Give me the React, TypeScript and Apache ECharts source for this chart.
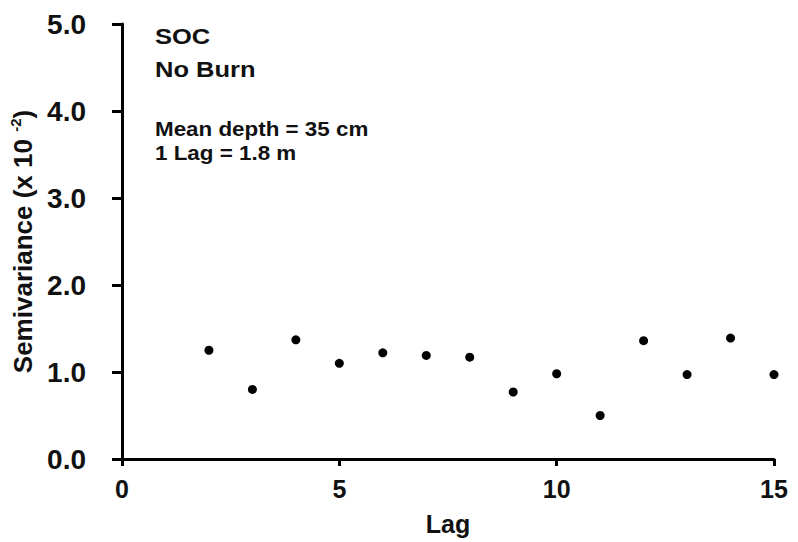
import React, { useEffect, useRef } from "react";
import * as echarts from "echarts";

const lags = [2, 3, 4, 5, 6, 7, 8, 9, 10, 11, 12, 13, 14, 15];
const semivariance = [1.25, 0.8, 1.37, 1.1, 1.22, 1.19, 1.17, 0.77, 0.98, 0.5, 1.36, 0.97, 1.39, 0.97];
const titleLines = ["SOC", "No Burn"];
const noteLines = ["Mean depth = 35 cm", "1 Lag = 1.8 m"];

const FONT = "'Liberation Sans', Arial, sans-serif";

export default function App() {
  const ref = useRef<HTMLDivElement>(null);
  useEffect(() => {
    if (!ref.current) return;
    const chart = echarts.init(ref.current, null, { renderer: "svg" });
    const data = lags.map((x, i) => [x, semivariance[i]]);
    chart.setOption({
      animation: false,
      backgroundColor: "#fff",
      textStyle: { fontFamily: FONT },
      grid: { left: 122, right: 24, top: 24, bottom: 83 },
      xAxis: {
        type: "value",
        min: 0,
        max: 15,
        interval: 5,
        name: "Lag",
        nameLocation: "middle",
        nameGap: 52,
        nameTextStyle: { fontFamily: FONT, fontWeight: "bold", fontSize: 25, color: "#111" },
        axisLine: { show: true, onZero: false, lineStyle: { color: "#000", width: 3 } },
        axisTick: { show: true, inside: false, length: 7, lineStyle: { color: "#000", width: 3 } },
        axisLabel: { margin: 17, fontFamily: FONT, fontWeight: "bold", fontSize: 25, color: "#111" },
        splitLine: { show: false },
      },
      yAxis: {
        type: "value",
        min: 0,
        max: 5,
        interval: 1,
        name: "{a|Semivariance (x 10 }{s|-2}{a|)}",
        nameLocation: "middle",
        nameGap: 81,
        nameTextStyle: {
          fontFamily: FONT,
          rich: {
            a: { fontFamily: FONT, fontWeight: "bold", fontSize: 26, color: "#111", lineHeight: 30 },
            s: { fontFamily: FONT, fontWeight: "bold", fontSize: 15, color: "#111", lineHeight: 30, verticalAlign: "top" },
          },
        },
        axisLine: { show: true, lineStyle: { color: "#000", width: 3 } },
        axisTick: { show: true, inside: false, length: 10, lineStyle: { color: "#000", width: 3 } },
        axisLabel: {
          margin: 36,
          fontFamily: FONT,
          fontWeight: "bold",
          fontSize: 28,
          color: "#111",
          formatter: (v: number) => v.toFixed(1),
        },
        splitLine: { show: false },
      },
      graphic: [
        {
          type: "text",
          x: 155,
          y: 20,
          scaleX: 1.16,
          style: {
            text: titleLines.join("\n"),
            fontFamily: FONT,
            fontWeight: "bold",
            fontSize: 22,
            lineHeight: 33,
            fill: "#111",
            align: "left",
            verticalAlign: "top",
          },
        },
        {
          type: "text",
          x: 155,
          y: 117,
          scaleX: 1.12,
          style: {
            text: noteLines.join("\n"),
            fontFamily: FONT,
            fontWeight: "bold",
            fontSize: 20,
            lineHeight: 24,
            fill: "#111",
            align: "left",
            verticalAlign: "top",
          },
        },
      ],
      series: [
        {
          type: "scatter",
          data,
          symbol: "circle",
          symbolSize: 9,
          itemStyle: { color: "#000", opacity: 1 },
        },
      ],
    });
    return () => chart.dispose();
  }, []);
  return <div ref={ref} style={{ position: "fixed", left: 0, top: 0, width: 798, height: 542 }} />;
}
